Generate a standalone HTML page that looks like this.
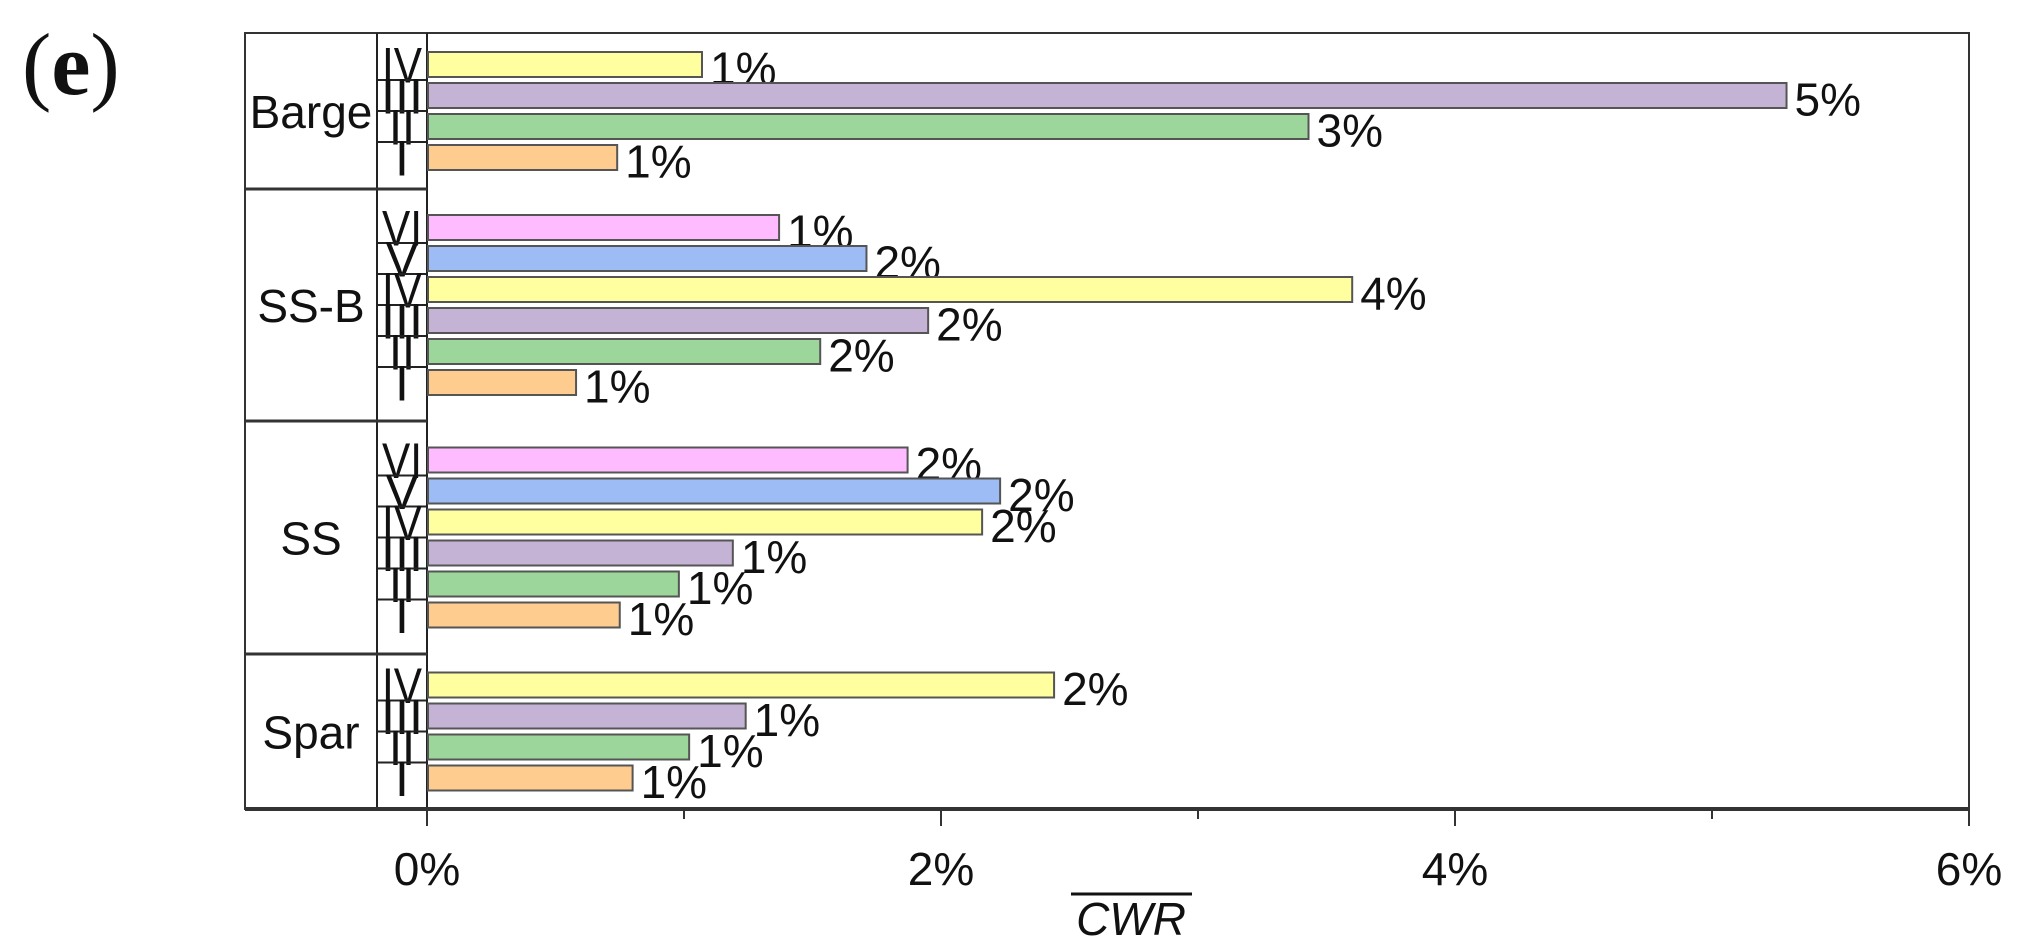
<!DOCTYPE html>
<html><head><meta charset="utf-8"><style>
html,body{margin:0;padding:0;background:#fff;}
svg{display:block;}
text{font-family:"Liberation Sans",Arial,sans-serif;fill:#111;}
</style></head><body>
<svg id="chart" width="2020" height="950" viewBox="0 0 2020 950" xmlns="http://www.w3.org/2000/svg">
<text x="22" y="94" font-size="88" style="font-family:'Liberation Serif',serif"><tspan>(</tspan><tspan font-weight="bold">e</tspan><tspan>)</tspan></text>
</svg>
<script>
const groups = ["Barge","SS-B","SS","Spar"];
const barLabels = [["IV","III","II","I"],["VI","V","IV","III","II","I"],["VI","V","IV","III","II","I"],["IV","III","II","I"]];
const barValues = [[1.07,5.29,3.43,0.74],[1.37,1.71,3.60,1.95,1.53,0.58],[1.87,2.23,2.16,1.19,0.98,0.75],[2.44,1.24,1.02,0.80]];
const valueLabels = [["1%","5%","3%","1%"],["1%","2%","4%","2%","2%","1%"],["2%","2%","2%","1%","1%","1%"],["2%","1%","1%","1%"]];
const xTicks = [0,2,4,6];
const xTickLabels = ["0%","2%","4%","6%"];
const xMinorTicks = [1,3,5];

const svg = document.getElementById('chart');
const NS = "http://www.w3.org/2000/svg";
const X0 = 427, X1 = 1969, XMAX = 6;
const plotTop = 33, plotBottom = 809, plotLeft = 245, catRight = 377;
const groupBounds = [[33,189],[189,421],[421,654],[654,809]];
const pitch = 31, bh = 25;
const numWidths = {"I":0,"II":26,"III":42,"IV":40,"V":0,"VI":40};
function xs(v){ return X0 + (v / XMAX) * (X1 - X0); }
function el(tag, attrs){ const e = document.createElementNS(NS, tag); for (const k in attrs) e.setAttribute(k, attrs[k]); svg.appendChild(e); return e; }
const colors = {"I":"#ffcc90","II":"#9dd69b","III":"#c5b3d6","IV":"#ffffa0","V":"#9dbcf5","VI":"#ffbbff"};

let f = el('rect', {x:plotLeft, y:plotTop, width:X1-plotLeft, height:plotBottom-plotTop, fill:'none', stroke:'#333', 'stroke-width':2});


let l1 = el('line', {x1:catRight, y1:plotTop, x2:catRight, y2:plotBottom, stroke:'#222', 'stroke-width':2});


let l2 = el('line', {x1:X0, y1:plotTop, x2:X0, y2:plotBottom, stroke:'#222', 'stroke-width':2});



groups.forEach((g, gi) => {
  const [g0, g1] = groupBounds[gi];
  if (gi > 0) {
    const d = el('line', {x1:plotLeft, y1:g0, x2:X0, y2:g0, stroke:'#333', 'stroke-width':3});
    
    
  }
  const gc = (g0 + g1) / 2;
  const gt = el('text', {x:311, y:gc+17, 'font-size':46, 'text-anchor':'middle'});
  gt.textContent = g;
  
  
  const n = barValues[gi].length;
  const centers = barValues[gi].map((_, i) => gc + (i - (n - 1) / 2) * pitch);
  centers.forEach((c, i) => {
    const lab = barLabels[gi][i];
    const v = barValues[gi][i];
    if (i > 0) {
      const cb = el('line', {x1:catRight, y1:c - pitch/2, x2:X0, y2:c - pitch/2, stroke:'#222', 'stroke-width':2});
      
      
    }
    const st = el('text', {x:402, y:c+18, 'font-size':50, 'text-anchor':'middle'});
    if (numWidths[lab]) { st.setAttribute('textLength', numWidths[lab]); st.setAttribute('lengthAdjust','spacingAndGlyphs'); }
    st.textContent = lab;
    
    
    const r = el('rect', {x:X0+1, y:c - bh/2, width:xs(v) - X0 - 1, height:bh, fill:colors[lab], stroke:'#555', 'stroke-width':2});
    
    
    const vt = el('text', {x:xs(v) + 8, y:c + 20, 'font-size':46});
    vt.textContent = valueLabels[gi][i];
    
    
  });
});

let ax = el('line', {x1:plotLeft, y1:plotBottom, x2:X1, y2:plotBottom, stroke:'#333', 'stroke-width':4});


xTicks.forEach((t, i) => {
  const tk = el('line', {x1:xs(t), y1:plotBottom, x2:xs(t), y2:plotBottom+17, stroke:'#333', 'stroke-width':2});
  
  
  const tl = el('text', {x:xs(t), y:885, 'font-size':46, 'text-anchor':'middle'});
  tl.textContent = xTickLabels[i];
  
  
});
xMinorTicks.forEach(t => {
  const tk = el('line', {x1:xs(t), y1:plotBottom, x2:xs(t), y2:plotBottom+10, stroke:'#333', 'stroke-width':2});
  
  
});
const xt = el('text', {x:1131, y:935, 'font-size':46, 'text-anchor':'middle', 'font-style':'italic'});
xt.textContent = 'CWR';


const ol = el('line', {x1:1071, y1:894, x2:1192, y2:894, stroke:'#111', 'stroke-width':3});


</script>
</body></html>
